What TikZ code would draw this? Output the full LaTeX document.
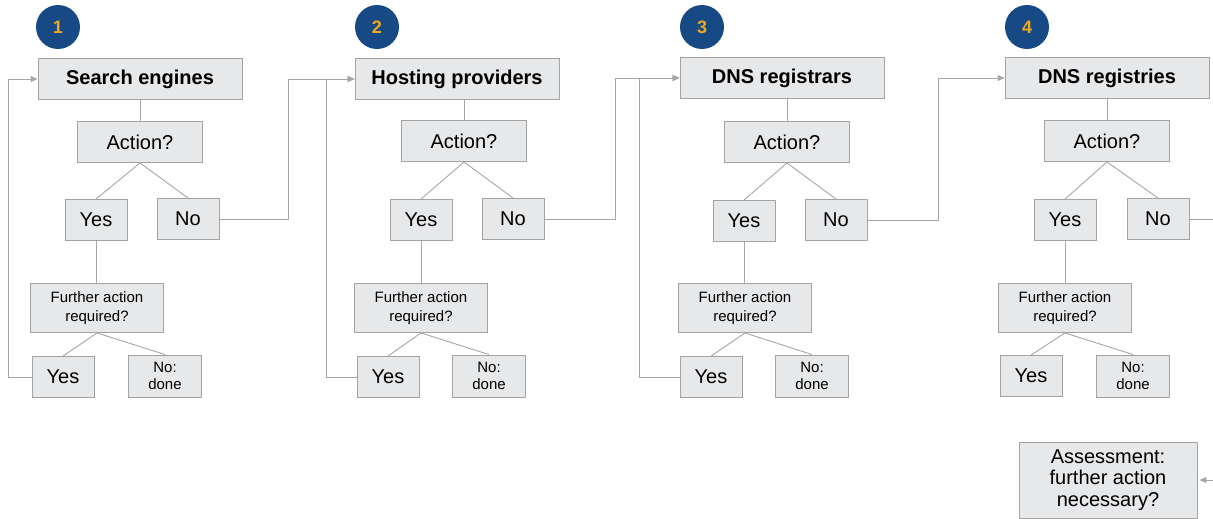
\documentclass[tikz,border=0pt]{standalone}
\usepackage{fontspec}
\setmainfont{Liberation Sans}
\usetikzlibrary{arrows.meta,calc}
\definecolor{boxfill}{HTML}{E7E8EA}
\definecolor{boxline}{HTML}{A3A3A3}
\definecolor{wirecol}{HTML}{A6A6A6}
\definecolor{navy}{HTML}{174A85}
\definecolor{gold}{HTML}{F0A81C}
\begin{document}
\begin{tikzpicture}[x=1pt,y=-1pt,
 box/.style={draw=boxline,fill=boxfill,line width=0.9pt,inner sep=0pt,align=center},
 title/.style={box,minimum width=204pt,minimum height=41pt,font=\fontsize{20}{22}\selectfont\bfseries},
 ask/.style={box,minimum width=125pt,minimum height=41pt,font=\fontsize{20}{22}\selectfont},
 ans/.style={box,minimum width=62pt,minimum height=41pt,font=\fontsize{20}{22}\selectfont},
 further/.style={box,minimum width=133pt,minimum height=49pt,font=\fontsize{15}{19}\selectfont},
 done/.style={box,minimum width=73pt,minimum height=42pt,font=\fontsize{15}{17}\selectfont},
 assess/.style={box,minimum width=178pt,minimum height=76pt,font=\fontsize{20}{21.5}\selectfont},
 badge/.style={circle,fill=navy,minimum size=44pt,inner sep=0pt,text=gold,font=\fontsize{18}{18}\selectfont\bfseries},
 link/.style={draw=wirecol,line width=0.9pt},
 arr/.style={link,-{Triangle[width=6pt,length=7pt]}},
]
\useasboundingbox (0,0) rectangle (1213,519);

% column 1
\node[badge] (c1) at (58,27) {1};
\node[title] (t1) at (140,79) {Search engines};
\node[ask] (a1) at (140,142) {Action?};
\node[ans] (y1) at (96,220) {Yes};
\node[ans] (n1) at (188,219) {No};
\node[further] (f1) at (97,308) {Further action\\required?};
\node[ans] (yy1) at (63,377) {Yes};
\node[done] (d1) at (165,376) {No:\\done};

% column 2
\node[badge] (c2) at (377,27) {2};
\node[title] (t2) at (457,79) {Hosting providers};
\node[ask] (a2) at (464,141) {Action?};
\node[ans] (y2) at (421,220) {Yes};
\node[ans] (n2) at (513,219) {No};
\node[further] (f2) at (421,308) {Further action\\required?};
\node[ans] (yy2) at (388,377) {Yes};
\node[done] (d2) at (489,376) {No:\\done};

% column 3
\node[badge] (c3) at (702,27) {3};
\node[title] (t3) at (782,78) {DNS registrars};
\node[ask] (a3) at (787,142) {Action?};
\node[ans] (y3) at (744,221) {Yes};
\node[ans] (n3) at (836,220) {No};
\node[further] (f3) at (745,308) {Further action\\required?};
\node[ans] (yy3) at (711,377) {Yes};
\node[done] (d3) at (812,376) {No:\\done};

% column 4
\node[badge] (c4) at (1027,27) {4};
\node[title] (t4) at (1107,78) {DNS registries};
\node[ask] (a4) at (1107,141) {Action?};
\node[ans] (y4) at (1065,220) {Yes};
\node[ans] (n4) at (1158,219) {No};
\node[further] (f4) at (1065,308) {Further action\\required?};
\node[ans] (yy4) at (1031,376) {Yes};
\node[done] (d4) at (1133,376) {No:\\done};

\node[assess] (as) at (1108,480) {Assessment:\\further action\\necessary?};

% routing coordinates
\coordinate (b1) at (8,79);
\coordinate (k1) at (288,79);
\coordinate (b2) at (326,79);
\coordinate (k2) at (615,78);
\coordinate (b3) at (639,78);
\coordinate (k3) at (938,78);
\coordinate (e1) at (1213,219);
\coordinate (e2) at (1213,480);

% inner connectors
\foreach \i in {1,2,3,4}{
  \draw[link] (a\i.north) -- (a\i.north |- t\i.south);
  \draw[link] (a\i.south) -- (y\i.north);
  \draw[link] (a\i.south) -- (n\i.north);
  \draw[link] (y\i.south) -- (y\i.south |- f\i.north);
  \draw[link] (f\i.south) -- (yy\i.north);
  \draw[link] (f\i.south) -- (d\i.north);
}

% feedback loops
\draw[arr] (yy1.west) -| (b1) -- (t1.west);
\draw[arr] (yy2.west) -| (b2) -- (t2.west);
\draw[arr] (yy3.west) -| (b3) -- (t3.west);

% No -> next stage
\draw[arr] (n1.east) -| (k1) -- (t2.west);
\draw[arr] (n2.east) -| (k2) -- (t3.west);
\draw[arr] (n3.east) -| (k3) -- (t4.west);
\draw[link] (n4.east) -- (e1);
\draw[arr,shorten >=2pt] (e2) -- (as.east);
\end{tikzpicture}
\end{document}
